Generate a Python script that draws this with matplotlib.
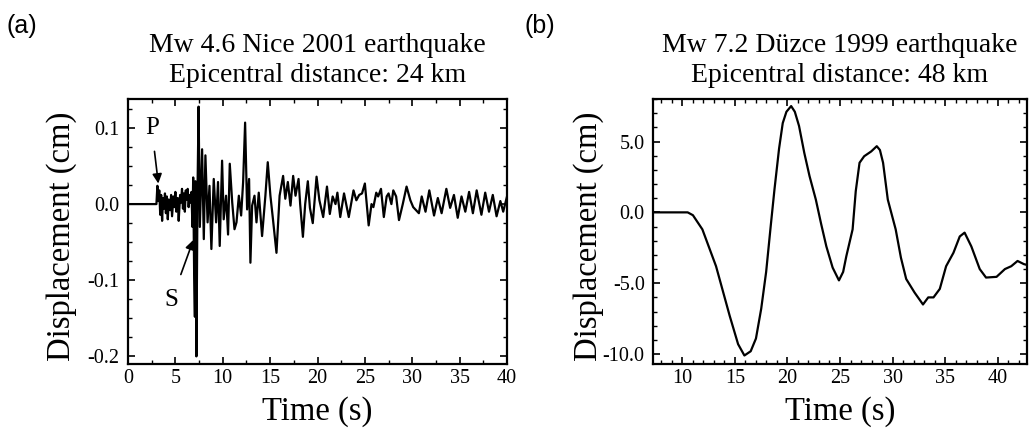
import matplotlib
matplotlib.use('Agg')
import matplotlib.pyplot as plt
from matplotlib.ticker import MultipleLocator, FormatStrFormatter

plt.rcParams['font.family'] = ['Liberation Serif', 'DejaVu Serif']
plt.rcParams['axes.unicode_minus'] = False

# --- (a) Mw 4.6 Nice 2001, displacement (cm) vs time (s) ---
t_nice = [0.0, 3.0, 3.1, 3.2, 3.3, 3.4, 3.5, 3.6, 3.7, 3.8, 3.9, 4.0, 4.1, 4.2, 4.3,
          4.45, 4.55, 4.65, 4.8, 4.9, 5.0, 5.1, 5.25, 5.35, 5.5, 5.6, 5.7, 5.8, 5.9,
          6.0, 6.1, 6.2, 6.3, 6.4, 6.5, 6.6, 6.7, 6.8, 6.88, 6.98, 7.06, 7.12, 7.22,
          7.34, 7.45, 7.58, 7.82, 8.0, 8.17, 8.4, 8.6, 8.8, 9.05, 9.3, 9.5, 9.68,
          9.93, 10.1, 10.35, 10.56, 10.74, 11.0, 11.24, 11.45, 11.7, 11.94, 12.15,
          12.36, 12.57, 12.78, 12.92, 13.1, 13.35, 13.56, 13.8, 14.15, 14.5, 14.75,
          15.03, 15.3, 15.67, 16.0, 16.37, 16.6, 16.87, 17.15, 17.43, 17.68, 18.0,
          18.17, 18.46, 18.7, 18.98, 19.2, 19.5, 19.9, 20.2, 20.6, 21.0, 21.3, 21.6,
          21.9, 22.1, 22.4, 22.8, 23.1, 23.3, 23.8, 24.1, 24.4, 24.7, 25.0, 25.4,
          25.7, 25.9, 26.2, 26.4, 26.7, 27.0, 27.3, 27.5, 27.8, 28.0, 28.3, 28.6,
          29.0, 29.4, 29.8, 30.1, 30.4, 30.7, 31.0, 31.4, 31.8, 32.3, 32.7, 33.1,
          33.6, 34.0, 34.4, 34.8, 35.2, 35.6, 36.0, 36.4, 36.8, 37.3, 37.7, 38.1,
          38.5, 38.9, 39.3, 39.6, 40.0]
d_nice = [0.0, 0.0, 0.024, 0.004, 0.018, -0.014, 0.012, -0.022, 0.008, -0.006, 0.014,
          -0.012, 0.01, -0.02, 0.006, -0.008, 0.012, -0.016, 0.01, -0.004, 0.016, -0.01,
          0.008, -0.022, 0.012, 0.002, 0.02, -0.006, 0.014, -0.01, 0.018, 0.006, 0.02,
          -0.004, 0.012, 0.002, 0.016, -0.03, 0.035, -0.09, -0.148, 0.03, -0.2, 0.02,
          0.128, -0.03, 0.072, -0.046, 0.064, -0.024, 0.024, -0.059, 0.033, -0.024,
          0.029, -0.055, 0.057, -0.02, 0.011, -0.04, 0.053, 0.002, -0.033, -0.024,
          0.011, -0.015, 0.029, 0.107, -0.007, 0.033, -0.077, -0.002, 0.011, -0.024,
          0.015, -0.042, 0.011, 0.055, 0.011, -0.02, -0.064, 0.011, 0.037, 0.007,
          0.029, -0.002, 0.037, 0.011, 0.033, 0.0, -0.043, 0.0, 0.03, -0.005, -0.025,
          0.036, 0.005, -0.017, 0.023, -0.013, 0.01, 0.0, 0.015, -0.017, 0.014, -0.005,
          -0.017, 0.018, 0.005, 0.012, 0.014, 0.027, -0.028, 0.0, -0.004, 0.015, 0.01,
          0.02, -0.017, 0.01, 0.014, 0.0, 0.018, 0.01, -0.021, 0.0, 0.023, 0.005,
          -0.004, -0.008, -0.012, 0.01, -0.01, 0.018, -0.015, 0.008, -0.012, 0.02,
          -0.005, 0.012, -0.018, 0.01, -0.01, 0.016, -0.012, 0.018, -0.014, 0.015,
          -0.01, 0.012, -0.016, 0.004, -0.01, 0.01]

# --- (b) Mw 7.2 Duzce 1999 ---
t_duzce = [7.1, 10.5, 11.0, 11.9, 13.2, 14.5, 15.3, 15.9, 16.5, 17.0, 17.5, 17.97,
           18.4, 18.76, 19.2, 19.55, 19.9, 20.35, 20.7, 21.1, 21.6, 22.1, 22.7, 23.2,
           23.7, 24.3, 24.9, 25.3, 25.6, 26.2, 26.5, 26.86, 27.3, 27.97, 28.5, 28.8,
           29.1, 29.55, 30.3, 30.8, 31.3, 32.1, 32.9, 33.4, 33.9, 34.5, 35.1, 35.8,
           36.4, 36.86, 37.5, 38.3, 38.9, 39.9, 40.7, 41.3, 41.9, 42.5, 43.0]
d_duzce = [0.0, 0.0, -0.2, -1.2, -3.8, -7.3, -9.3, -10.1, -9.8, -8.9, -6.8, -4.2,
           -1.0, 1.6, 4.5, 6.3, 7.1, 7.5, 7.1, 6.1, 4.2, 2.56, 0.9, -0.8, -2.4, -3.9,
           -4.8, -4.2, -3.1, -1.2, 1.5, 3.5, 3.96, 4.3, 4.67, 4.4, 3.5, 0.9, -1.2,
           -3.2, -4.7, -5.66, -6.5, -6.0, -6.0, -5.4, -3.8, -2.85, -1.7, -1.43, -2.4,
           -4.0, -4.6, -4.55, -4.0, -3.8, -3.43, -3.65, -3.75]

W, H = 1030, 434
fig = plt.figure(figsize=(W / 100, H / 100), dpi=100)

def style_axes(ax, ylab_x):
    ax.tick_params(which='both', direction='in', top=True, right=True, labelsize=14.5)
    ax.tick_params(which='major', length=5, width=1.2)
    ax.tick_params(which='minor', length=3, width=1.0)
    ax.tick_params(axis='y', pad=6)
    for s in ax.spines.values():
        s.set_linewidth(1.6)
    ax.set_xlabel('Time (s)', fontsize=23.5)
    ax.set_ylabel('Displacement (cm)', fontsize=23.5)
    ax.xaxis.set_label_coords(0.5, -0.12)
    ax.yaxis.set_label_coords(ylab_x, 0.48)

# Panel (a)
ax1 = fig.add_axes([128 / W, 70 / H, 379 / W, 265 / H])
ax1.plot(t_nice, d_nice, color='k', lw=1.6)
ax1.set_xlim(0, 40)
ax1.set_ylim(-0.21, 0.138)
ax1.xaxis.set_major_locator(MultipleLocator(5))
ax1.xaxis.set_minor_locator(MultipleLocator(2.5))
ax1.yaxis.set_major_locator(MultipleLocator(0.1))
ax1.yaxis.set_minor_locator(MultipleLocator(0.025))
ax1.yaxis.set_major_formatter(FormatStrFormatter('%.1f'))
style_axes(ax1, -0.135)
ax1.set_title('Mw 4.6 Nice 2001 earthquake\nEpicentral distance: 24 km',
              fontsize=20, pad=12.5, linespacing=1.25)
ax1.annotate('P', xy=(3.2, 0.027), xytext=(2.5, 0.10), fontsize=18,
             ha='center', va='center',
             arrowprops=dict(arrowstyle='-|>', color='k', lw=1.2, mutation_scale=14,
                             shrinkA=7, shrinkB=0))
ax1.annotate('S', xy=(6.9, -0.047), xytext=(4.6, -0.126), fontsize=18,
             ha='center', va='center',
             arrowprops=dict(arrowstyle='-|>', color='k', lw=1.2, mutation_scale=14,
                             shrinkA=9, shrinkB=0))

# Panel (b)
ax2 = fig.add_axes([653 / W, 70 / H, 374 / W, 265 / H])
ax2.plot(t_duzce, d_duzce, color='k', lw=1.6)
ax2.set_xlim(7.2, 42.8)
ax2.set_ylim(-10.7, 8.0)
ax2.xaxis.set_major_locator(MultipleLocator(5))
ax2.xaxis.set_minor_locator(MultipleLocator(1))
ax2.yaxis.set_major_locator(MultipleLocator(5))
ax2.yaxis.set_minor_locator(MultipleLocator(1))
ax2.yaxis.set_major_formatter(FormatStrFormatter('%.1f'))
style_axes(ax2, -0.13)
ax2.set_title('Mw 7.2 D\u00fczce 1999 earthquake\nEpicentral distance: 48 km',
              fontsize=20, pad=12.5, linespacing=1.25)

fig.text(22 / W, 1 - 26 / H, '(a)', family='Liberation Sans', fontsize=18,
         ha='center', va='center')
fig.text(540 / W, 1 - 26 / H, '(b)', family='Liberation Sans', fontsize=18,
         ha='center', va='center')

fig.savefig('out.png', dpi=100, facecolor='white')
